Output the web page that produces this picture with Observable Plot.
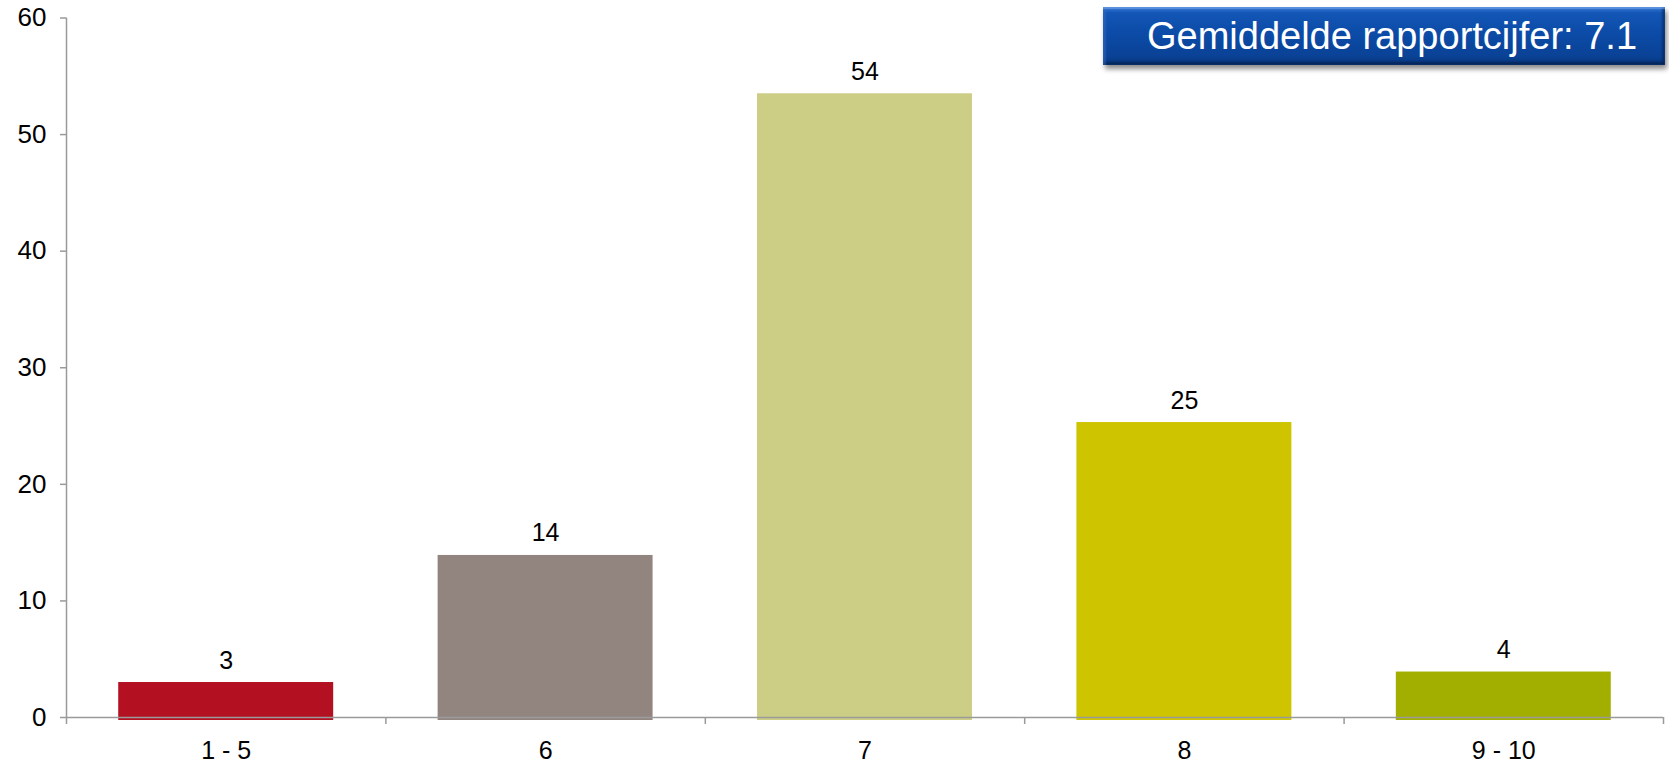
<!DOCTYPE html>
<html>
<head>
<meta charset="utf-8">
<script src="https://cdn.jsdelivr.net/npm/d3@7"></script>
<script src="https://cdn.jsdelivr.net/npm/@observablehq/plot@0.6"></script>
<style>
  html, body { margin: 0; padding: 0; background: #fff; }
  #wrap { position: relative; width: 1669px; height: 765px; font-family: "Liberation Sans", Arial, sans-serif; }
  #badge {
    position: absolute; left: 1103px; top: 7px; width: 546px; height: 58px; padding-left: 16px;
    background: linear-gradient(to bottom, #3b7ad6 0%, #1356b6 10%, #0b4aa5 50%, #0a4296 85%, #063478 100%);
    box-shadow: 2px 4px 5px rgba(0,0,0,0.45), inset 0 2px 1px rgba(120,170,240,0.6), inset 3px 0 2px rgba(60,110,200,0.5), inset -3px 0 2px rgba(5,30,80,0.5), inset 0 -3px 2px rgba(4,30,70,0.6);
    color: #fff; font-size: 38px; line-height: 58px; text-align: center;
    font-family: "Liberation Sans", Arial, sans-serif;
  }
</style>
</head>
<body>
<div id="wrap">
  <div id="chart"></div>
  <div id="badge"></div>
</div>
<script>
const categories = ["1 - 5", "6", "7", "8", "9 - 10"];
const values = [3.0, 13.9, 53.5, 25.3, 3.9];
const valueLabels = ["3", "14", "54", "25", "4"];
const colors = ["#b31122", "#928580", "#ccce86", "#cec400", "#a2af00"];
const yTicks = [0, 10, 20, 30, 40, 50, 60];
const badgeText = "Gemiddelde rapportcijfer: 7.1";

const data = categories.map((c, i) => ({ i, category: c, value: values[i], label: valueLabels[i], color: colors[i] }));
const barPad = 0.1635;
const axisColor = "#9a9a9a";

document.getElementById("badge").textContent = badgeText;

const chart = Plot.plot({
  width: 1669,
  height: 765,
  marginLeft: 66,
  marginRight: 6,
  marginTop: 17.5,
  marginBottom: 48,
  style: { fontFamily: "Liberation Sans, Arial, sans-serif", color: "#000", background: "#fff" },
  x: { type: "linear", domain: [0, categories.length] },
  y: { domain: [0, 60] },
  marks: [
    Plot.rectY(data, {
      x1: d => d.i + barPad,
      x2: d => d.i + 1 - barPad,
      y1: 0,
      y2: "value",
      fill: "color",
      insetBottom: -3
    }),
    Plot.ruleY([0], { stroke: axisColor, strokeWidth: 1.5 }),
    Plot.ruleX([0], { stroke: axisColor, strokeWidth: 1.5 }),
    Plot.axisY({ ticks: yTicks, tickSize: 6, tickPadding: 14, fontSize: 26, stroke: axisColor, strokeWidth: 1.5, label: null, color: "#000" }),
    Plot.axisX({ ticks: d3.range(categories.length + 1), tickSize: 7, tickFormat: () => "", stroke: axisColor, strokeWidth: 1.5, label: null }),
    Plot.axisX({ ticks: data.map(d => d.i + 0.5), tickSize: 0, tickPadding: 24, tickFormat: d => categories[Math.floor(d)], fontSize: 25, label: null }),
    Plot.text(data, {
      x: d => d.i + 0.5,
      y: "value",
      text: "label",
      dy: -14,
      lineAnchor: "bottom",
      fontSize: 25,
      fill: "#000"
    })
  ]
});
document.getElementById("chart").appendChild(chart);
</script>
</body>
</html>
